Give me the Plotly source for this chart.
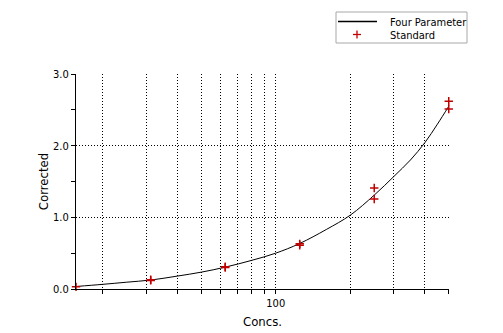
import plotly.graph_objects as go

# Standard points (concentration, corrected response)
std_conc = [15.6, 31.25, 31.25, 62.5, 62.5, 125, 125, 250, 250, 500, 500]
std_val = [0.03, 0.12, 0.13, 0.30, 0.31, 0.61, 0.63, 1.255, 1.41, 2.51, 2.62]

# Four Parameter fitted curve
fit_conc = [15.6, 20, 25, 31.25, 40, 50, 62.5, 80, 100, 125, 160, 200, 250, 300, 350, 400, 450, 500]
fit_val = [0.035, 0.065, 0.095, 0.125, 0.18, 0.235, 0.305, 0.40, 0.50, 0.635, 0.83, 1.03, 1.31, 1.57, 1.80, 2.04, 2.30, 2.55]

x_major = [100]
x_minor = [20, 30, 40, 50, 60, 70, 80, 90, 200, 300, 400, 500]
y_major = [0, 1, 2, 3]
y_minor = [0.5, 1.5, 2.5]
legend_names = ["Four Parameter", "Standard"]

FONT = "DejaVu Sans Condensed, Tahoma, DejaVu Sans, sans-serif"
RED = "#c00000"
DOT = "1px,2px"

fig = go.Figure()
fig.add_trace(go.Scatter(
    x=fit_conc, y=fit_val, mode="lines", name=legend_names[0],
    line=dict(color="black", width=1, shape="spline"),
))
fig.add_trace(go.Scatter(
    x=std_conc, y=std_val, mode="markers", name=legend_names[1],
    marker=dict(symbol="cross-thin", size=6, line=dict(color=RED, width=1.5), color=RED),
    cliponaxis=False,
))

# Legend drawn in paper coordinates (compact box like the original)
L, PW, B, PH = 76, 373, 289, 215
def px(x):
    return (x - L) / PW
def py(y):
    return (B - y) / PH

shapes = [
    dict(type="rect", xref="paper", yref="paper", x0=px(336), x1=px(467), y0=py(43), y1=py(12),
         line=dict(color="#a8a8a8", width=1), fillcolor="white", layer="above"),
    dict(type="line", xref="paper", yref="paper", x0=px(338), x1=px(377), y0=py(21.5), y1=py(21.5),
         line=dict(color="black", width=1.3), layer="above"),
    dict(type="line", xref="paper", yref="paper", x0=px(353), x1=px(361), y0=py(34.5), y1=py(34.5),
         line=dict(color=RED, width=1.3), layer="above"),
    dict(type="line", xref="paper", yref="paper", x0=px(357), x1=px(357), y0=py(30.5), y1=py(38.5),
         line=dict(color=RED, width=1.3), layer="above"),
]
annotations = [
    dict(xref="paper", yref="paper", x=px(388), y=py(22), xanchor="left", yanchor="middle",
         text=legend_names[0], showarrow=False, font=dict(family=FONT, size=11, color="black")),
    dict(xref="paper", yref="paper", x=px(388), y=py(35), xanchor="left", yanchor="middle",
         text=legend_names[1], showarrow=False, font=dict(family=FONT, size=11, color="black")),
]

fig.update_layout(
    width=503, height=333,
    margin=dict(l=76, r=54, t=74, b=44),
    paper_bgcolor="white", plot_bgcolor="white",
    font=dict(family=FONT, size=11, color="black"),
    showlegend=False,
    shapes=shapes, annotations=annotations,
    xaxis=dict(
        type="log", range=[1.193, 2.700], automargin=False,
        tickmode="array", tickvals=x_major, ticktext=["100"],
        showgrid=True, gridcolor="black", griddash=DOT, gridwidth=1,
        showline=True, linecolor="black", linewidth=1,
        ticks="outside", ticklen=4, tickcolor="black",
        minor=dict(tickmode="array", tickvals=x_minor, showgrid=True,
                   gridcolor="black", griddash=DOT, gridwidth=1,
                   ticks="outside", ticklen=4, tickcolor="black"),
        zeroline=False,
        title=dict(text="Concs.", standoff=7),
    ),
    yaxis=dict(
        range=[0, 3], automargin=False,
        tickmode="array", tickvals=y_major, tickformat=".1f",
        showgrid=True, gridcolor="black", griddash=DOT, gridwidth=1,
        showline=True, linecolor="black", linewidth=1,
        ticks="outside", ticklen=4, tickcolor="black",
        minor=dict(tickmode="array", tickvals=y_minor, showgrid=False,
                   ticks="outside", ticklen=4, tickcolor="black"),
        zeroline=False,
        title=dict(text="Corrected", standoff=1),
    ),
)

fig.write_html("out.html")
